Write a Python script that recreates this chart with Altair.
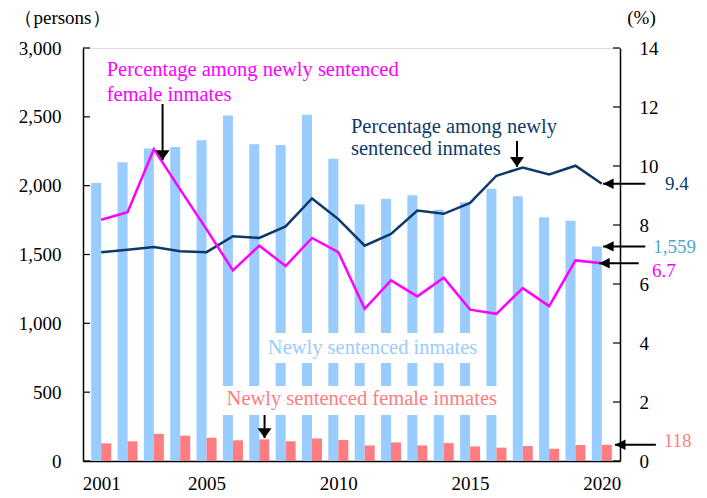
import altair as alt
import pandas as pd

# ---------------- data ----------------
years = list(range(2001, 2021))
inmates = [2020, 2170, 2270, 2280, 2330, 2510, 2300, 2295, 2515, 2195,
           1865, 1905, 1930, 1825, 1880, 1978, 1923, 1770, 1746, 1559]
female = [128, 143, 196, 184, 169, 150, 157, 143, 164, 152,
          113, 135, 113, 130, 106, 97, 109, 89, 116, 118]
pct_female = [8.18, 8.43, 10.57, 9.2, 7.85, 6.46, 7.30, 6.61, 7.56, 7.08,
              5.16, 6.12, 5.58, 6.21, 5.13, 4.99, 5.86, 5.25, 6.80, 6.7]
pct_all = [7.08, 7.16, 7.25, 7.11, 7.08, 7.62, 7.56, 7.95, 8.90, 8.2,
           7.30, 7.70, 8.49, 8.38, 8.75, 9.67, 9.95, 9.71, 10.01, 9.4]

x_labels = [2001, 2005, 2010, 2015, 2020]
left_ticks = [0, 500, 1000, 1500, 2000, 2500, 3000]
right_ticks = [0, 2, 4, 6, 8, 10, 12, 14]

FONT = "Times New Roman, Liberation Serif, Times, serif"
BLUE = "#99CCFF"
SALMON = "#FF7C80"
NAVY = "#0E3A6A"
MAGENTA = "#FF00FF"
TEAL = "#4BACC6"
FS = 19
FA = 20.5

W, H = 537, 413

df = pd.DataFrame({"year": years, "inmates": inmates, "female": female,
                   "pct_female": pct_female, "pct_all": pct_all})

# ---------------- scales / axes ----------------
xscale = alt.Scale(domain=[2000.5, 2020.5], nice=False, zero=False)
xaxis = alt.Axis(values=x_labels, format="d", ticks=False, tickSize=0, grid=False,
                 labelPadding=13, title=None, domainColor="black", domainWidth=1.5,
                 labelFont=FONT, labelFontSize=FS, labelColor="black")


def X(f):
    return alt.X(f, type="quantitative", scale=xscale, axis=xaxis)


yl_scale = alt.Scale(domain=[0, 3000], nice=False, zero=True)
yl_axis = alt.Axis(values=left_ticks, format=",d", ticks=False, tickSize=0, grid=False,
                   labelPadding=22, domainColor="black", domainWidth=1.5,
                   labelFont=FONT, labelFontSize=FS, labelColor="black",
                   title="（persons）", titleAngle=0, titleX=-21, titleY=-31,
                   titleAlign="center", titleBaseline="middle", titleFont=FONT,
                   titleFontSize=FS, titleFontWeight="normal", titleColor="black")
yr_scale = alt.Scale(domain=[0, 14], nice=False, zero=True)
yr_axis = alt.Axis(values=right_ticks, format="d", orient="right", ticks=False, tickSize=0,
                   grid=False, labelPadding=19, domainColor="black", domainWidth=1.5,
                   labelFont=FONT, labelFontSize=FS, labelColor="black",
                   title="(%)", titleAngle=0, titleX=21, titleY=-31,
                   titleAlign="center", titleBaseline="middle", titleFont=FONT,
                   titleFontSize=FS, titleFontWeight="normal", titleColor="black")


def YL(f):
    return alt.Y(f, type="quantitative", scale=yl_scale, axis=yl_axis)


def YR(f):
    return alt.Y(f, type="quantitative", scale=yr_scale, axis=yr_axis)


# ---------------- left (persons) group ----------------
bars_all = alt.Chart(df).mark_bar(width=10, xOffset=-5, color=BLUE).encode(
    x=X("year"), y=YL("inmates"))
bars_fem = alt.Chart(df).mark_bar(width=10, xOffset=5, color=SALMON).encode(
    x=X("year"), y=YL("female"))

ltick_df = pd.DataFrame({"v": left_ticks})
lticks = alt.Chart(ltick_df).mark_rule(color="black", strokeWidth=1.2).encode(
    x=alt.value(0), x2=alt.value(7), y=YL("v"))

l_arrow_df = pd.DataFrame({"x": [2021.65, 2022.05], "x2": [2020.05, 2020.5],
                           "y": [1559, 118]})
l_shafts = alt.Chart(l_arrow_df).mark_rule(color="black", strokeWidth=2).encode(
    x=X("x"), x2="x2", y=YL("y"))
l_heads = alt.Chart(l_arrow_df).mark_point(
    shape="M0,0L2,-1L2,1Z", size=110, filled=True, color="black", opacity=1,
    strokeWidth=0).encode(x=X("x2"), y=YL("y"))

l_text_df = pd.DataFrame({"x": [2021.95, 2022.35], "y": [1552, 145],
                          "t": ["1,559", "118"], "c": [TEAL, SALMON]})
l_texts = alt.Chart(l_text_df).mark_text(
    align="left", baseline="middle", font=FONT, fontSize=FS).encode(
    x=X("x"), y=YL("y"), text="t:N", color=alt.Color("c:N", scale=None))

left = alt.layer(bars_all, bars_fem, lticks, l_shafts, l_heads, l_texts)

# ---------------- right (%) group ----------------
box_df = pd.DataFrame({"x": [2007.17, 2005.42], "x2": [2015.55, 2016.22],
                       "y": [3.32, 1.56], "y2": [4.34, 2.54]})
boxes = alt.Chart(box_df).mark_rect(color="white").encode(
    x=X("x"), x2="x2", y=YR("y"), y2="y2")

line_all = alt.Chart(df).mark_line(color=NAVY, strokeWidth=2.5).encode(
    x=X("year"), y=YR("pct_all"))
line_fem = alt.Chart(df).mark_line(color=MAGENTA, strokeWidth=2.5).encode(
    x=X("year"), y=YR("pct_female"))

rtick_df = pd.DataFrame({"v": right_ticks})
rticks = alt.Chart(rtick_df).mark_rule(color="black", strokeWidth=1.2).encode(
    x=alt.value(W - 7), x2=alt.value(W), y=YR("v"))

# down arrows
d_arrow_df = pd.DataFrame({"x": [2003.33, 2016.78, 2007.2],
                           "y": [12.1, 10.85, 1.56],
                           "y2": [10.2, 9.97, 0.78]})
d_shafts = alt.Chart(d_arrow_df).mark_rule(color="black", strokeWidth=2).encode(
    x=X("x"), y=YR("y"), y2="y2")
d_heads = alt.Chart(d_arrow_df).mark_point(
    shape="M0,0L-1,-1.4L1,-1.4Z", size=196, filled=True, color="black", opacity=1,
    strokeWidth=0).encode(x=X("x"), y=YR("y2"))

# left arrows for % values
r_arrow_df = pd.DataFrame({"x": [2021.65, 2021.4], "x2": [2020.05, 2019.9],
                           "y": [9.4, 6.7]})
r_shafts = alt.Chart(r_arrow_df).mark_rule(color="black", strokeWidth=2).encode(
    x=X("x"), x2="x2", y=YR("y"))
r_heads = alt.Chart(r_arrow_df).mark_point(
    shape="M0,0L2,-1L2,1Z", size=110, filled=True, color="black", opacity=1,
    strokeWidth=0).encode(x=X("x2"), y=YR("y"))

val_df = pd.DataFrame({
    "x": [2022.4, 2021.9], "y": [9.4, 6.44], "t": ["9.4", "6.7"],
    "c": [NAVY, MAGENTA]})
val_texts = alt.Chart(val_df).mark_text(
    align="left", baseline="middle", font=FONT, fontSize=FS).encode(
    x=X("x"), y=YR("y"), text="t:N", color=alt.Color("c:N", scale=None))

ann_left_df = pd.DataFrame({
    "x": [2001.21, 2001.21, 2010.48, 2010.48],
    "y": [13.25, 12.4, 11.32, 10.58],
    "t": ["Percentage among newly sentenced", "female inmates",
          "Percentage among newly", "sentenced inmates"],
    "c": [MAGENTA, MAGENTA, NAVY, NAVY]})
ann_left = alt.Chart(ann_left_df).mark_text(
    align="left", baseline="middle", font=FONT, fontSize=FA).encode(
    x=X("x"), y=YR("y"), text="t:N", color=alt.Color("c:N", scale=None))

ann_center_df = pd.DataFrame({
    "x": [2011.3, 2010.89], "y": [3.83, 2.1],
    "t": ["Newly sentenced inmates", "Newly sentenced female inmates"],
    "c": [BLUE, SALMON]})
ann_center = alt.Chart(ann_center_df).mark_text(
    align="center", baseline="middle", font=FONT, fontSize=FA).encode(
    x=X("x"), y=YR("y"), text="t:N", color=alt.Color("c:N", scale=None))

right = alt.layer(boxes, line_all, line_fem, rticks, d_shafts, d_heads,
                  r_shafts, r_heads, val_texts, ann_left, ann_center)

chart = alt.layer(left, right).resolve_scale(y="independent").properties(
    width=W, height=H,
    autosize=alt.AutoSizeParams(type="none"),
    padding={"left": 75, "top": 40, "right": 79, "bottom": 35},
).configure_view(stroke=None).configure(background="white")

chart.save("out.html", embed_options={"renderer": "svg", "actions": False})
